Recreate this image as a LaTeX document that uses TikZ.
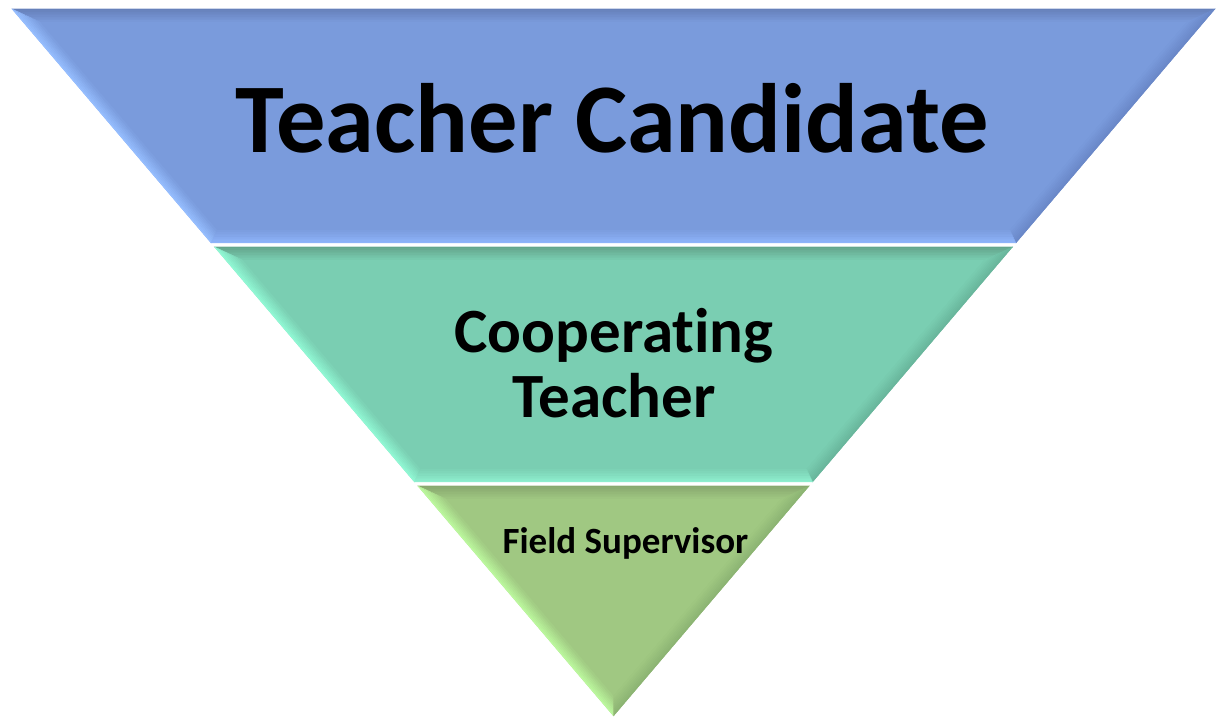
\documentclass[tikz,border=0pt]{standalone}
\usepackage{fontspec}
\setmainfont{Carlito}[Ligatures=NoCommon]
\definecolor{b1base}{RGB}{122,155,220}
\definecolor{b1top}{RGB}{102,128,186}
\definecolor{b1left}{RGB}{150,190,255}
\definecolor{b1right}{RGB}{106,136,200}
\definecolor{b1bot}{RGB}{142,180,250}
\definecolor{b2base}{RGB}{122,206,178}
\definecolor{b2top}{RGB}{100,165,140}
\definecolor{b2left}{RGB}{145,248,212}
\definecolor{b2right}{RGB}{105,182,156}
\definecolor{b2bot}{RGB}{142,238,206}
\definecolor{b3base}{RGB}{160,200,130}
\definecolor{b3top}{RGB}{136,168,110}
\definecolor{b3left}{RGB}{188,248,158}
\definecolor{b3right}{RGB}{140,180,115}
\definecolor{b3bot}{RGB}{160,200,130}
% corners of a band inset by #3, named #4tl, #4tr, #4br, #4bl
\newcommand\bandcorners[4]{%
  \pgfmathsetmacro\bcT{#1-#3}%
  \pgfmathsetmacro\bcB{max(#2+#3,3+1.5433*#3)}%
  \pgfmathsetmacro\bcHT{601.5-0.8508*(710-\bcT)-1.3130*#3}%
  \pgfmathsetmacro\bcHB{max(0,601.5-0.8508*(710-\bcB)-1.3130*#3)}%
  \coordinate (#4tl) at (613.5-\bcHT,\bcT);
  \coordinate (#4tr) at (613.5+\bcHT,\bcT);
  \coordinate (#4br) at (613.5+\bcHB,\bcB);
  \coordinate (#4bl) at (613.5-\bcHB,\bcB);
}
% bevelled band: Ytop Ybot base top left right bottom
\newcommand\bevelband[7]{%
  \bandcorners{#1}{#2}{0}{o}
  \fill[#3] (otl)--(otr)--(obr)--(obl)--cycle;
  \foreach \k in {0,...,7}{
    \pgfmathsetmacro\sa{\k*1.6}
    \pgfmathsetmacro\sb{(\k+1)*1.6}
    \pgfmathtruncatemacro\mix{100-\k*12.5}
    \bandcorners{#1}{#2}{\sa}{a}
    \bandcorners{#1}{#2}{\sb}{b}
    \path[fill=#4!\mix!#3, draw=#4!\mix!#3, line width=0.3pt] (atl)--(atr)--(btr)--(btl)--cycle;
    \path[fill=#5!\mix!#3, draw=#5!\mix!#3, line width=0.3pt] (atl)--(abl)--(bbl)--(btl)--cycle;
    \path[fill=#6!\mix!#3, draw=#6!\mix!#3, line width=0.3pt] (atr)--(abr)--(bbr)--(btr)--cycle;
    \path[fill=#7!\mix!#3, draw=#7!\mix!#3, line width=0.3pt] (abl)--(abr)--(bbr)--(bbl)--cycle;
  }
}
\tikzset{
  lbl/.style={anchor=base, inner sep=0pt, text=black},
}
\begin{document}
\begin{tikzpicture}[x=1pt,y=1pt]
\useasboundingbox (0,0) rectangle (1217,719);
\fill[white] (0,0) rectangle (1217,719);
\bevelband{710}{476}{b1base}{b1top}{b1left}{b1right}{b1bot}
\bevelband{472}{237}{b2base}{b2top}{b2left}{b2right}{b2bot}
\bevelband{233}{3}{b3base}{b3top}{b3left}{b3right}{b3bot}
\node[lbl, font=\fontsize{98.5}{100}\selectfont\bfseries] (tc) at (612.5,566) {Teacher Candidate};
\node[lbl, font=\fontsize{63}{65}\selectfont\bfseries, align=center] (ct) at (614,301) {Cooperating\\Teacher};
\node[lbl, font=\fontsize{37}{40}\selectfont\bfseries] (fs) at (625.5,165) {Field Supervisor};
\end{tikzpicture}
\end{document}
